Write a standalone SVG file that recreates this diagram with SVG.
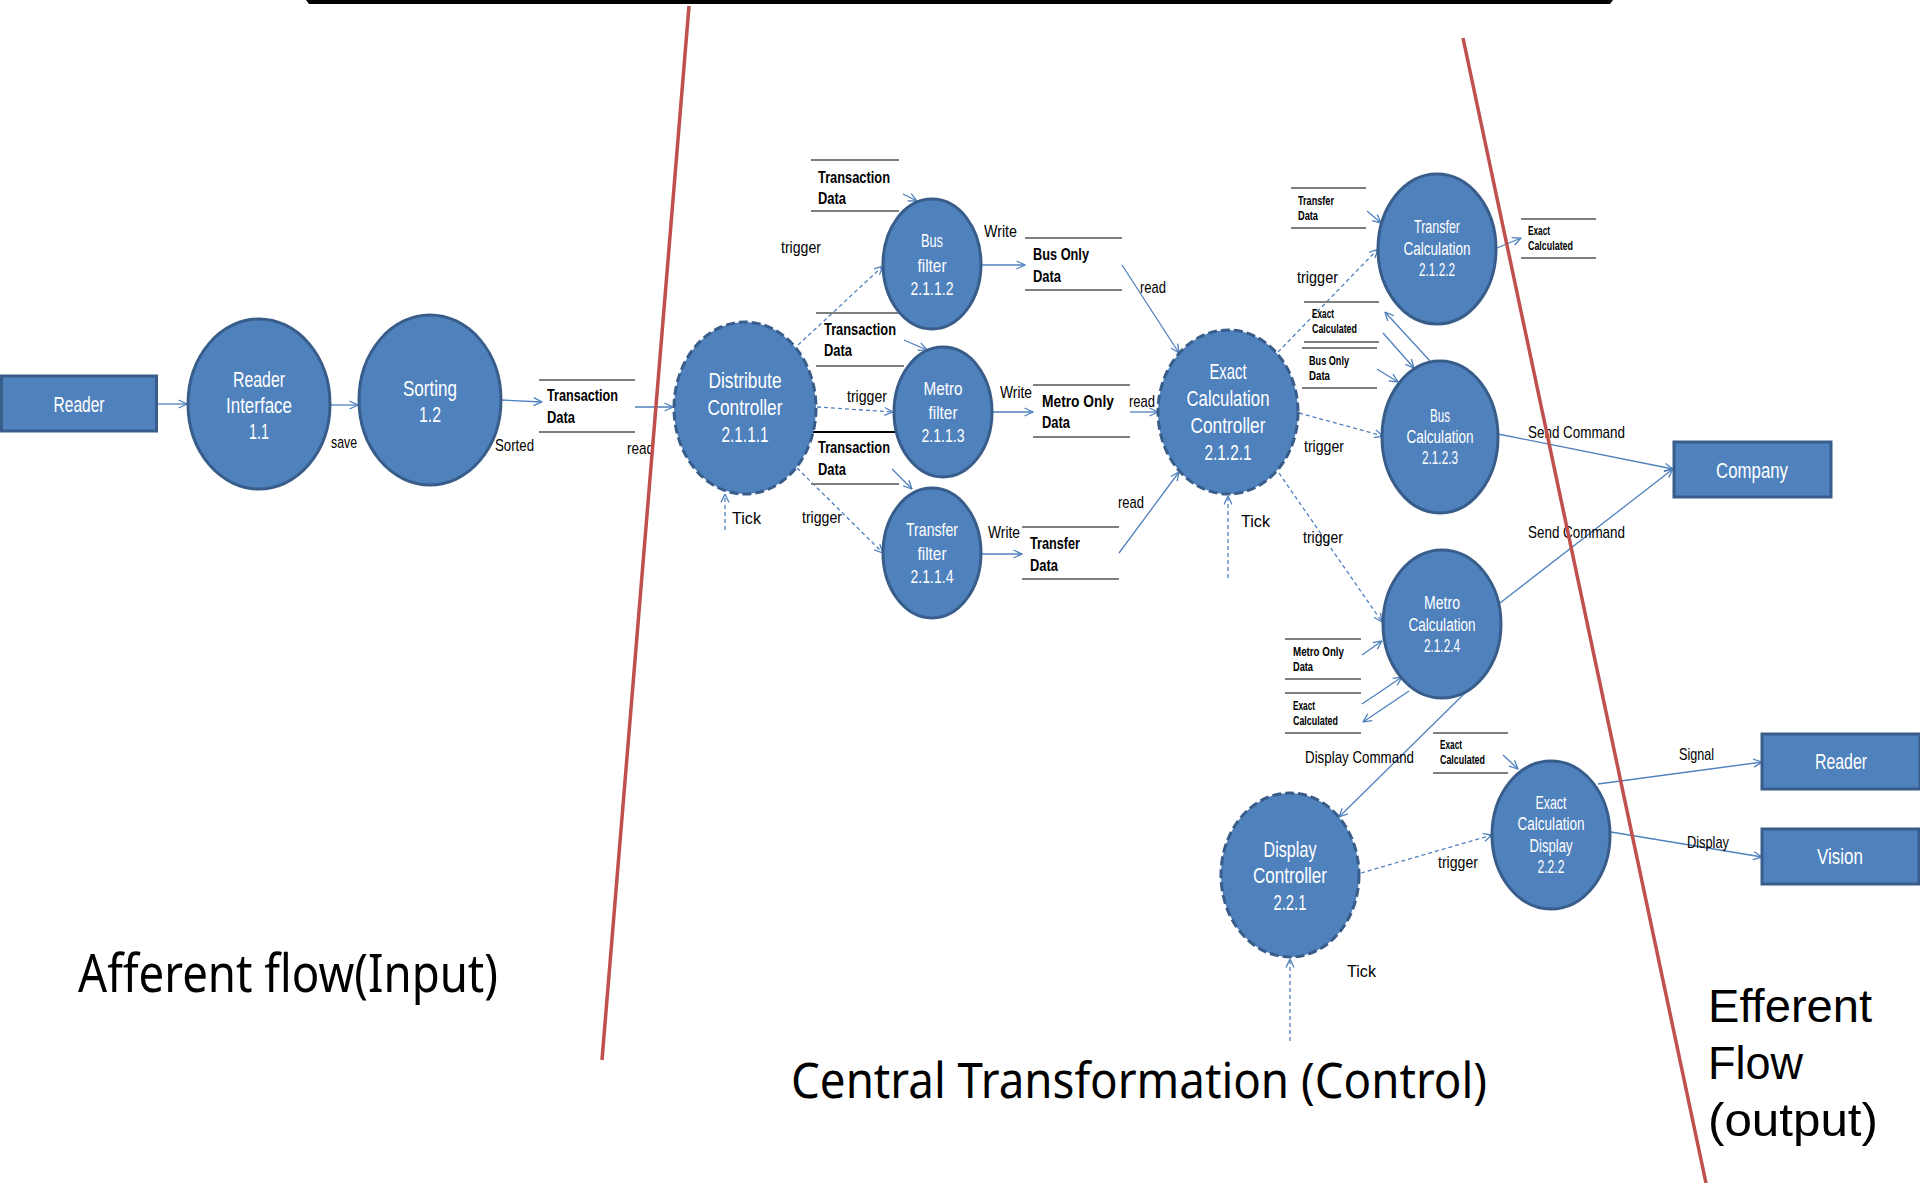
<svg xmlns="http://www.w3.org/2000/svg" width="1920" height="1183" viewBox="0 0 1920 1183">
<defs>
<marker id="ah" viewBox="0 0 10 10" refX="9.5" refY="5" markerWidth="10" markerHeight="10" markerUnits="userSpaceOnUse" orient="auto">
<path d="M1,1 L9.5,5 L1,9" fill="none" stroke="#4F81BD" stroke-width="1.3"/>
</marker>
</defs>
<style>
.proc{fill:#4F81BD;stroke:#385D8A;stroke-width:3}
.ctrl{fill:#4F81BD;stroke:#385D8A;stroke-width:3;stroke-dasharray:9 4}
.box{fill:#4F81BD;stroke:#385D8A;stroke-width:3}
.wt{font-family:"Liberation Sans","Noto Sans",sans-serif;fill:#fff;text-anchor:middle}
.w22{font-size:22px}
.w19{font-size:19px}
.w18{font-size:18px}
.lbl{font-family:"Liberation Sans","Noto Sans",sans-serif;font-size:17px;fill:#000}
.st{font-family:"Liberation Sans","Noto Sans",sans-serif;font-size:17px;font-weight:bold;fill:#000}
.ss{font-family:"Liberation Sans","Noto Sans",sans-serif;font-size:13px;font-weight:bold;fill:#000}
.big{font-family:"Noto Sans","Open Sans",sans-serif;fill:#000}
.big2{font-family:"Liberation Sans","Noto Sans",sans-serif;fill:#000;font-size:47px}
.sl{stroke:#7F7F7F;stroke-width:2;fill:none}
.c{stroke:#4F81BD;stroke-width:1.3;fill:none;marker-end:url(#ah)}
.d{stroke:#4F81BD;stroke-width:1.3;fill:none;stroke-dasharray:4 3;marker-end:url(#ah)}
.red{stroke:#C0504D;stroke-width:3.5;fill:none}
</style>
<rect width="1920" height="1183" fill="#fff"/>
<path d="M306,0 L1613,0 L1610,4 L309,4 Z" fill="#000"/>

<g id="connectors">
<line class="c" x1="157" y1="404" x2="187" y2="404"/>
<line class="c" x1="330" y1="405" x2="358" y2="405"/>
<line class="c" x1="501" y1="400" x2="542" y2="402"/>
<line class="c" x1="635" y1="407" x2="673" y2="407"/>
<line class="c" x1="903" y1="194" x2="917" y2="201"/>
<line class="c" x1="904" y1="340" x2="927" y2="350"/>
<line class="c" x1="892" y1="469" x2="912" y2="489"/>
<line class="d" x1="798" y1="345" x2="883" y2="266"/>
<line class="d" x1="817" y1="407" x2="893" y2="412"/>
<line class="d" x1="797" y1="468" x2="883" y2="553"/>
<line class="c" x1="981" y1="265" x2="1025" y2="265"/>
<line class="c" x1="992" y1="412" x2="1033" y2="412"/>
<line class="c" x1="981" y1="554" x2="1022" y2="554"/>
<line class="c" x1="1122" y1="265" x2="1179" y2="353"/>
<line class="c" x1="1130" y1="412" x2="1158" y2="412"/>
<line class="c" x1="1119" y1="553" x2="1179" y2="472"/>
<line class="d" x1="725" y1="530" x2="725" y2="494"/>
<line class="d" x1="1228" y1="578" x2="1228" y2="496"/>
<line class="d" x1="1278" y1="352" x2="1378" y2="249"/>
<line class="d" x1="1299" y1="413" x2="1383" y2="436"/>
<line class="d" x1="1279" y1="473" x2="1382" y2="622"/>
<line class="c" x1="1367" y1="211" x2="1381" y2="223"/>
<line class="c" x1="1497" y1="248" x2="1521" y2="238"/>
<line class="c" x1="1430" y1="361" x2="1385" y2="312"/>
<line class="c" x1="1383" y1="333" x2="1414" y2="368"/>
<line class="c" x1="1377" y1="369" x2="1398" y2="382"/>
<line class="c" x1="1498" y1="434" x2="1673" y2="469"/>
<line class="c" x1="1500" y1="603" x2="1673" y2="469"/>
<line class="c" x1="1362" y1="655" x2="1382" y2="641"/>
<line class="c" x1="1362" y1="704" x2="1402" y2="677"/>
<line class="c" x1="1409" y1="691" x2="1363" y2="722"/>
<line class="c" x1="1465" y1="693" x2="1339" y2="817"/>
<line class="c" x1="1503" y1="755" x2="1518" y2="769"/>
<line class="d" x1="1361" y1="873" x2="1492" y2="835"/>
<line class="d" x1="1290" y1="1041" x2="1290" y2="959"/>
<line class="c" x1="1598" y1="784" x2="1762" y2="762"/>
<line class="c" x1="1611" y1="832" x2="1762" y2="857"/>
</g>

<g id="stores">
<path class="sl" d="M539,380H635M539,432H635"/>
<path class="sl" d="M811,160H899M811,211H899"/>
<path class="sl" d="M816,313H904M816,366H904"/>
<path d="M811,432H899" stroke="#000" stroke-width="2"/>
<path class="sl" d="M811,484H899"/>
<path class="sl" d="M1025,238H1122M1025,290H1122"/>
<path class="sl" d="M1033,385H1130M1033,437H1130"/>
<path class="sl" d="M1022,527H1119M1022,579H1119"/>
<path class="sl" d="M1291,188H1366M1291,228H1366"/>
<path class="sl" d="M1521,219H1596M1521,258H1596"/>
<path class="sl" d="M1304,302H1379M1304,342H1379"/>
<path class="sl" d="M1302,348H1377M1302,388H1377"/>
<path class="sl" d="M1285,639H1361M1285,679H1361"/>
<path class="sl" d="M1285,693H1361M1285,733H1361"/>
<path class="sl" d="M1433,733H1508M1433,773H1508"/>
<text class="st" x="547" y="401" textLength="71" lengthAdjust="spacingAndGlyphs">Transaction</text>
<text class="st" x="547" y="423" textLength="28" lengthAdjust="spacingAndGlyphs">Data</text>
<text class="st" x="818" y="183" textLength="72" lengthAdjust="spacingAndGlyphs">Transaction</text>
<text class="st" x="818" y="204" textLength="28" lengthAdjust="spacingAndGlyphs">Data</text>
<text class="st" x="824" y="335" textLength="72" lengthAdjust="spacingAndGlyphs">Transaction</text>
<text class="st" x="824" y="356" textLength="28" lengthAdjust="spacingAndGlyphs">Data</text>
<text class="st" x="818" y="453" textLength="72" lengthAdjust="spacingAndGlyphs">Transaction</text>
<text class="st" x="818" y="475" textLength="28" lengthAdjust="spacingAndGlyphs">Data</text>
<text class="st" x="1033" y="260" textLength="56" lengthAdjust="spacingAndGlyphs">Bus Only</text>
<text class="st" x="1033" y="282" textLength="28" lengthAdjust="spacingAndGlyphs">Data</text>
<text class="st" x="1042" y="407" textLength="72" lengthAdjust="spacingAndGlyphs">Metro Only</text>
<text class="st" x="1042" y="428" textLength="28" lengthAdjust="spacingAndGlyphs">Data</text>
<text class="st" x="1030" y="549" textLength="50" lengthAdjust="spacingAndGlyphs">Transfer</text>
<text class="st" x="1030" y="571" textLength="28" lengthAdjust="spacingAndGlyphs">Data</text>
<text class="ss" x="1298" y="205" textLength="36" lengthAdjust="spacingAndGlyphs">Transfer</text>
<text class="ss" x="1298" y="220" textLength="20" lengthAdjust="spacingAndGlyphs">Data</text>
<text class="ss" x="1528" y="235" textLength="22" lengthAdjust="spacingAndGlyphs">Exact</text>
<text class="ss" x="1528" y="250" textLength="45" lengthAdjust="spacingAndGlyphs">Calculated</text>
<text class="ss" x="1312" y="318" textLength="22" lengthAdjust="spacingAndGlyphs">Exact</text>
<text class="ss" x="1312" y="333" textLength="45" lengthAdjust="spacingAndGlyphs">Calculated</text>
<text class="ss" x="1309" y="365" textLength="40" lengthAdjust="spacingAndGlyphs">Bus Only</text>
<text class="ss" x="1309" y="380" textLength="21" lengthAdjust="spacingAndGlyphs">Data</text>
<text class="ss" x="1293" y="656" textLength="51" lengthAdjust="spacingAndGlyphs">Metro Only</text>
<text class="ss" x="1293" y="671" textLength="20" lengthAdjust="spacingAndGlyphs">Data</text>
<text class="ss" x="1293" y="710" textLength="22" lengthAdjust="spacingAndGlyphs">Exact</text>
<text class="ss" x="1293" y="725" textLength="45" lengthAdjust="spacingAndGlyphs">Calculated</text>
<text class="ss" x="1440" y="749" textLength="22" lengthAdjust="spacingAndGlyphs">Exact</text>
<text class="ss" x="1440" y="764" textLength="45" lengthAdjust="spacingAndGlyphs">Calculated</text>
</g>

<g id="labels">
<text class="lbl" x="331" y="448" font-size="15" textLength="26" lengthAdjust="spacingAndGlyphs">save</text>
<text class="lbl" x="495" y="451" font-size="15" textLength="39" lengthAdjust="spacingAndGlyphs">Sorted</text>
<text class="lbl" x="627" y="454" font-size="15" textLength="27" lengthAdjust="spacingAndGlyphs">read</text>
<text class="lbl" x="984" y="237" textLength="33" lengthAdjust="spacingAndGlyphs">Write</text>
<text class="lbl" x="1000" y="398" textLength="32" lengthAdjust="spacingAndGlyphs">Write</text>
<text class="lbl" x="988" y="538" textLength="32" lengthAdjust="spacingAndGlyphs">Write</text>
<text class="lbl" x="1140" y="293" textLength="26" lengthAdjust="spacingAndGlyphs">read</text>
<text class="lbl" x="1129" y="407" textLength="26" lengthAdjust="spacingAndGlyphs">read</text>
<text class="lbl" x="1118" y="508" textLength="26" lengthAdjust="spacingAndGlyphs">read</text>
<text class="lbl" x="781" y="253" textLength="40" lengthAdjust="spacingAndGlyphs">trigger</text>
<text class="lbl" x="847" y="402" textLength="40" lengthAdjust="spacingAndGlyphs">trigger</text>
<text class="lbl" x="802" y="523" textLength="40" lengthAdjust="spacingAndGlyphs">trigger</text>
<text class="lbl" x="1297" y="283" textLength="41" lengthAdjust="spacingAndGlyphs">trigger</text>
<text class="lbl" x="1304" y="452" textLength="40" lengthAdjust="spacingAndGlyphs">trigger</text>
<text class="lbl" x="1303" y="543" textLength="40" lengthAdjust="spacingAndGlyphs">trigger</text>
<text class="lbl" x="1438" y="868" textLength="40" lengthAdjust="spacingAndGlyphs">trigger</text>
<text class="lbl" x="732" y="524" font-size="22" textLength="29" lengthAdjust="spacingAndGlyphs">Tick</text>
<text class="lbl" x="1241" y="527" font-size="22" textLength="29" lengthAdjust="spacingAndGlyphs">Tick</text>
<text class="lbl" x="1347" y="977" font-size="22" textLength="29" lengthAdjust="spacingAndGlyphs">Tick</text>
<text class="lbl" x="1528" y="438" textLength="97" lengthAdjust="spacingAndGlyphs">Send Command</text>
<text class="lbl" x="1528" y="538" textLength="97" lengthAdjust="spacingAndGlyphs">Send Command</text>
<text class="lbl" x="1305" y="763" font-size="16" textLength="109" lengthAdjust="spacingAndGlyphs">Display Command</text>
<text class="lbl" x="1679" y="760" font-size="16" textLength="35" lengthAdjust="spacingAndGlyphs">Signal</text>
<text class="lbl" x="1687" y="848" font-size="16" textLength="42" lengthAdjust="spacingAndGlyphs">Display</text>
</g>

<g id="reader-in">
<rect class="box" x="1.5" y="376" width="155" height="55"/>
<text class="wt w22" x="79" y="412" textLength="51" lengthAdjust="spacingAndGlyphs">Reader</text>
</g>
<g id="reader-interface">
<ellipse class="proc" cx="259" cy="404" rx="71" ry="85"/>
<text class="wt w22" x="259" y="387" textLength="52" lengthAdjust="spacingAndGlyphs">Reader</text>
<text class="wt w22" x="259" y="413" textLength="66" lengthAdjust="spacingAndGlyphs">Interface</text>
<text class="wt w22" x="259" y="439" textLength="20" lengthAdjust="spacingAndGlyphs">1.1</text>
</g>
<g id="sorting">
<ellipse class="proc" cx="430" cy="400" rx="71" ry="85"/>
<text class="wt w22" x="430" y="396" textLength="54" lengthAdjust="spacingAndGlyphs">Sorting</text>
<text class="wt w22" x="430" y="422" textLength="22" lengthAdjust="spacingAndGlyphs">1.2</text>
</g>
<g id="distribute-controller">
<ellipse class="ctrl" cx="745" cy="408" rx="71" ry="86"/>
<text class="wt w22" x="745" y="388" textLength="73" lengthAdjust="spacingAndGlyphs">Distribute</text>
<text class="wt w22" x="745" y="415" textLength="75" lengthAdjust="spacingAndGlyphs">Controller</text>
<text class="wt w22" x="745" y="442" textLength="47" lengthAdjust="spacingAndGlyphs">2.1.1.1</text>
</g>
<g id="bus-filter">
<ellipse class="proc" cx="932" cy="264" rx="49" ry="65"/>
<text class="wt w19" x="932" y="247" textLength="22" lengthAdjust="spacingAndGlyphs">Bus</text>
<text class="wt w19" x="932" y="272" textLength="29" lengthAdjust="spacingAndGlyphs">filter</text>
<text class="wt w19" x="932" y="295" textLength="43" lengthAdjust="spacingAndGlyphs">2.1.1.2</text>
</g>
<g id="metro-filter">
<ellipse class="proc" cx="943" cy="412" rx="49" ry="65"/>
<text class="wt w19" x="943" y="395" textLength="39" lengthAdjust="spacingAndGlyphs">Metro</text>
<text class="wt w19" x="943" y="419" textLength="29" lengthAdjust="spacingAndGlyphs">filter</text>
<text class="wt w19" x="943" y="442" textLength="43" lengthAdjust="spacingAndGlyphs">2.1.1.3</text>
</g>
<g id="transfer-filter">
<ellipse class="proc" cx="932" cy="553" rx="49" ry="65"/>
<text class="wt w19" x="932" y="536" textLength="52" lengthAdjust="spacingAndGlyphs">Transfer</text>
<text class="wt w19" x="932" y="560" textLength="29" lengthAdjust="spacingAndGlyphs">filter</text>
<text class="wt w19" x="932" y="583" textLength="43" lengthAdjust="spacingAndGlyphs">2.1.1.4</text>
</g>
<g id="exact-calc-controller">
<ellipse class="ctrl" cx="1228" cy="412" rx="70" ry="82"/>
<text class="wt w22" x="1228" y="379" textLength="37" lengthAdjust="spacingAndGlyphs">Exact</text>
<text class="wt w22" x="1228" y="406" textLength="83" lengthAdjust="spacingAndGlyphs">Calculation</text>
<text class="wt w22" x="1228" y="433" textLength="75" lengthAdjust="spacingAndGlyphs">Controller</text>
<text class="wt w22" x="1228" y="460" textLength="47" lengthAdjust="spacingAndGlyphs">2.1.2.1</text>
</g>
<g id="transfer-calc">
<ellipse class="proc" cx="1437" cy="249" rx="59" ry="75"/>
<text class="wt w18" x="1437" y="233" textLength="46" lengthAdjust="spacingAndGlyphs">Transfer</text>
<text class="wt w18" x="1437" y="255" textLength="67" lengthAdjust="spacingAndGlyphs">Calculation</text>
<text class="wt w18" x="1437" y="276" textLength="36" lengthAdjust="spacingAndGlyphs">2.1.2.2</text>
</g>
<g id="bus-calc">
<ellipse class="proc" cx="1440" cy="437" rx="58" ry="76"/>
<text class="wt w18" x="1440" y="422" textLength="20" lengthAdjust="spacingAndGlyphs">Bus</text>
<text class="wt w18" x="1440" y="443" textLength="67" lengthAdjust="spacingAndGlyphs">Calculation</text>
<text class="wt w18" x="1440" y="464" textLength="36" lengthAdjust="spacingAndGlyphs">2.1.2.3</text>
</g>
<g id="metro-calc">
<ellipse class="proc" cx="1442" cy="624" rx="59" ry="74"/>
<text class="wt w18" x="1442" y="609" textLength="36" lengthAdjust="spacingAndGlyphs">Metro</text>
<text class="wt w18" x="1442" y="631" textLength="67" lengthAdjust="spacingAndGlyphs">Calculation</text>
<text class="wt w18" x="1442" y="652" textLength="36" lengthAdjust="spacingAndGlyphs">2.1.2.4</text>
</g>
<g id="display-controller">
<ellipse class="ctrl" cx="1290" cy="875" rx="69" ry="82"/>
<text class="wt w22" x="1290" y="857" textLength="53" lengthAdjust="spacingAndGlyphs">Display</text>
<text class="wt w22" x="1290" y="883" textLength="74" lengthAdjust="spacingAndGlyphs">Controller</text>
<text class="wt w22" x="1290" y="910" textLength="33" lengthAdjust="spacingAndGlyphs">2.2.1</text>
</g>
<g id="exact-calc-display">
<ellipse class="proc" cx="1551" cy="835" rx="59" ry="74"/>
<text class="wt w18" x="1551" y="809" textLength="31" lengthAdjust="spacingAndGlyphs">Exact</text>
<text class="wt w18" x="1551" y="830" textLength="67" lengthAdjust="spacingAndGlyphs">Calculation</text>
<text class="wt w18" x="1551" y="852" textLength="43" lengthAdjust="spacingAndGlyphs">Display</text>
<text class="wt w18" x="1551" y="873" textLength="27" lengthAdjust="spacingAndGlyphs">2.2.2</text>
</g>
<g id="company">
<rect class="box" x="1674" y="442" width="157" height="55"/>
<text class="wt w22" x="1752" y="478" textLength="72" lengthAdjust="spacingAndGlyphs">Company</text>
</g>
<g id="reader-out">
<rect class="box" x="1762" y="734" width="158" height="55"/>
<text class="wt w22" x="1841" y="769" textLength="52" lengthAdjust="spacingAndGlyphs">Reader</text>
</g>
<g id="vision">
<rect class="box" x="1762" y="829" width="157" height="55"/>
<text class="wt w22" x="1840" y="864" textLength="46" lengthAdjust="spacingAndGlyphs">Vision</text>
</g>

<g id="sections">
<text class="big" x="78" y="992" font-size="52" textLength="420" lengthAdjust="spacingAndGlyphs">Afferent flow(Input)</text>
<text class="big" x="791" y="1098" font-size="50" textLength="696" lengthAdjust="spacingAndGlyphs">Central Transformation (Control)</text>
<text class="big2" x="1708" y="1022" textLength="164" lengthAdjust="spacingAndGlyphs">Efferent</text>
<text class="big2" x="1708" y="1079" textLength="95" lengthAdjust="spacingAndGlyphs">Flow</text>
<text class="big2" x="1708" y="1136" textLength="170" lengthAdjust="spacingAndGlyphs">(output)</text>
<line class="red" x1="689" y1="6" x2="602" y2="1060"/>
<line class="red" x1="1463" y1="38" x2="1706" y2="1183"/>
</g>
</svg>
